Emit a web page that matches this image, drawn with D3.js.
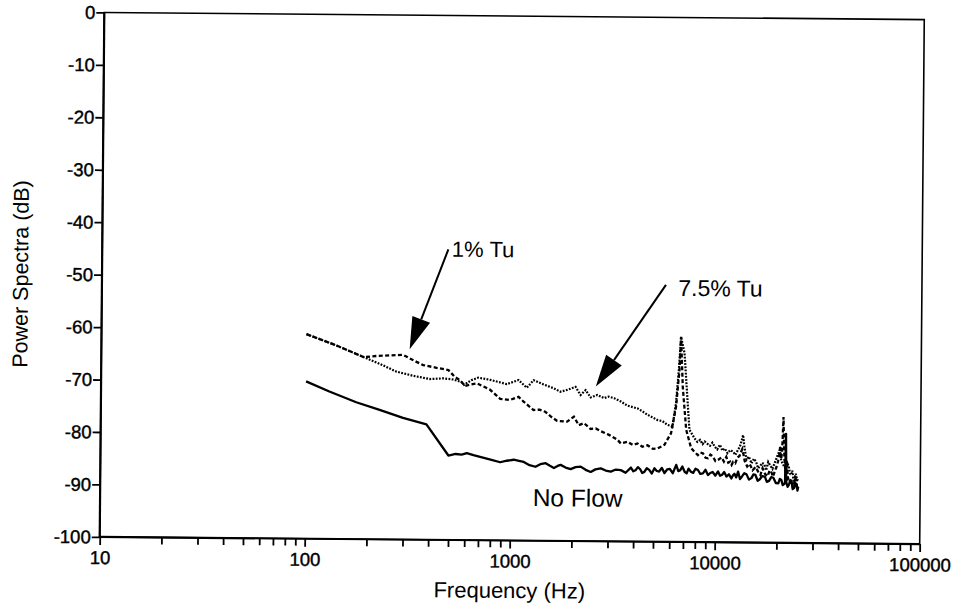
<!DOCTYPE html>
<html>
<head>
<meta charset="utf-8">
<script src="https://cdn.jsdelivr.net/npm/d3@7"></script>
<style>
  html, body { margin: 0; padding: 0; background: #fff; }
  svg { display: block; font-family: "Liberation Sans", Arial, Helvetica, sans-serif; }
</style>
</head>
<body>
<svg id="chart" width="960" height="609"></svg>
<script>
// Power spectra of the probe signal: no flow vs. 1% and 7.5% turbulence intensity
const noFlowHz = [100, 130, 176, 229, 298, 388, 498, 540, 578, 612, 660, 711, 800, 892, 960, 1038, 1100, 1162, 1240, 1326,
  1400, 1486, 1560, 1631, 1700, 1758, 1860, 1968, 2080, 2203, 2330, 2466, 2600, 2761, 2920, 3090, 3270, 3459, 3650, 3873,
  3980, 4080, 4190, 4300, 4400, 4506, 4630, 4760, 4900, 5046, 5180, 5320, 5480, 5649, 5820, 6000, 6200, 6442, 6600, 6750,
  6900, 7084, 7250, 7400, 7600, 7800, 8000, 8227, 8450, 8700, 8950, 9209, 9450, 9700, 10000, 10310, 10550, 10800, 11050, 11330,
  11650, 11980, 12200, 12400, 12650, 12920, 13200, 13500, 13850, 14200, 14600, 15010, 15350, 15700, 16100, 16500, 16950, 17450, 17850, 18300,
  18750, 19200, 19750, 20310, 20650, 21000, 21350, 21700, 21900, 22050, 22200, 22550, 22900, 23250, 23580, 23950, 24300, 24650, 25000, 25200,
  25410];
const noFlowDb = [-70.0, -71.9, -73.9, -75.3, -76.8, -78.0, -83.9, -83.6, -83.7, -83.4, -83.8, -84.1, -84.6, -85.1, -84.8, -84.6, -84.8, -85.0, -85.6, -85.9,
  -85.4, -85.2, -85.7, -86.1, -85.7, -85.5, -86.0, -86.3, -85.9, -85.8, -86.4, -86.8, -86.3, -86.1, -86.5, -86.7, -86.3, -86.4, -86.9, -85.9,
  -86.6, -86.4, -85.8, -86.2, -86.9, -86.7, -86.0, -86.3, -87.0, -86.0, -86.5, -86.6, -85.9, -86.9, -86.2, -86.1, -86.9, -85.3, -86.5, -86.3,
  -85.6, -86.6, -86.9, -86.0, -86.6, -86.8, -86.0, -86.25, -87.0, -86.9, -86.2, -87.2, -86.8, -86.6, -87.3, -86.5, -87.3, -87.1, -86.6, -87.45,
  -87.0, -87.8, -87.2, -86.9, -87.6, -86.5, -87.9, -87.4, -86.8, -87.0, -88.0, -87.7, -87.0, -87.1, -88.2, -87.9, -87.3, -87.4, -88.4, -88.2,
  -87.5, -87.6, -88.6, -88.65, -87.8, -88.0, -89.0, -88.8, -88.5, -79.2, -88.4, -89.3, -88.9, -88.0, -88.3, -89.7, -89.5, -88.6, -88.9, -90.0,
  -89.3];

const tu1Hz = [100, 140, 191, 219, 260, 297, 318, 345, 372, 432, 494, 531, 562, 596, 640, 680, 735, 791, 840, 886,
  991, 1089, 1153, 1220, 1291, 1380, 1472, 1580, 1682, 1883, 2031, 2148, 2277, 2453, 2600, 2747, 3020, 3319, 3446, 3716,
  3950, 4160, 4400, 4656, 4950, 5219, 5631, 6057, 6394, 6620, 6720, 6880, 7180, 7606, 7900, 8204, 8450, 8700, 8950, 9200,
  9450, 9700, 10000, 10300, 10700, 11000, 11300, 11550, 11800, 12000, 12200, 12500, 12800, 13100, 13300, 13500, 13700, 13900, 14300, 14700,
  15200, 15700, 16200, 16600, 17000, 17500, 18000, 18400, 18800, 19100, 19500, 19850, 20200, 20450, 20700, 20900, 21100, 21250, 21400, 21550,
  21700, 22000, 22300, 22650, 23000, 23250, 23500, 23850, 24200, 24500, 24800, 25100, 25400];
const tu1Db = [-61.0, -63.1, -65.3, -65.05, -64.9, -64.8, -65.4, -66.1, -66.7, -67.2, -67.6, -68.9, -69.5, -70.6, -70.3, -70.1, -70.7, -71.3, -72.2, -73.0,
  -73.2, -72.6, -73.5, -74.3, -75.1, -75.0, -75.4, -76.4, -77.1, -77.25, -76.3, -77.9, -77.5, -78.6, -78.5, -79.0, -79.7, -80.6, -81.3, -81.0,
  -81.6, -81.3, -81.9, -81.6, -82.3, -82.2, -81.5, -79.3, -74.2, -67.2, -60.9, -70.4, -78.6, -82.1, -82.8, -83.4, -82.9, -83.1, -83.9, -84.0,
  -83.3, -83.6, -84.5, -84.3, -83.8, -84.6, -83.7, -84.8, -84.6, -85.2, -84.65, -84.9, -83.8, -83.5, -82.8, -82.2, -83.2, -84.5, -85.5, -85.0,
  -86.2, -85.6, -86.5, -87.1, -85.8, -86.9, -87.3, -86.2, -86.6, -87.4, -86.4, -85.6, -84.5, -83.4, -81.5, -84.0, -83.0, -79.8, -76.0, -80.5,
  -84.0, -86.5, -84.5, -87.8, -87.6, -88.8, -88.0, -89.4, -88.9, -87.6, -87.9, -89.6, -89.2];

const tu75Hz = [100, 140, 191, 230, 276, 332, 401, 466, 523, 574, 590, 640, 692, 789, 870, 953, 1087, 1194, 1288, 1442,
  1615, 1741, 1879, 2064, 2185, 2312, 2448, 2641, 2847, 3000, 3187, 3433, 3700, 4142, 4400, 4642, 5197, 5500, 5817, 6152,
  6385, 6574, 6720, 6998, 7284, 7446, 7888, 8150, 8400, 8650, 8852, 9100, 9400, 9650, 9927, 10200, 10500, 10800, 11100, 11450,
  11800, 12190, 12500, 12850, 13150, 13400, 13620, 13800, 14170, 14550, 15000, 15400, 15800, 16150, 16490, 16900, 17300, 17700, 18100, 18550,
  19000, 19400, 19800, 20200, 20600, 20900, 21200, 21700, 22200, 22500, 22800, 23150, 23500, 23750, 24000, 24350, 24700, 25050, 25400];
const tu75Db = [-61.0, -63.1, -65.3, -66.6, -68.0, -68.75, -69.35, -69.2, -69.4, -69.9, -70.4, -69.5, -69.0, -69.4, -69.8, -70.2, -69.4, -70.85, -69.4, -70.2,
  -70.9, -71.55, -71.2, -70.6, -72.15, -71.2, -72.6, -72.1, -72.7, -72.4, -72.7, -73.3, -74.1, -74.6, -75.2, -75.8, -76.8, -77.0, -77.7, -78.0,
  -73.6, -67.2, -60.9, -64.0, -73.5, -78.6, -80.2, -80.9, -80.5, -81.3, -80.8, -81.2, -81.6, -81.0, -81.8, -82.3, -81.4, -82.5, -82.1, -83.0,
  -82.4, -82.7, -83.3, -82.4, -81.7, -80.6, -79.5, -81.5, -84.2, -83.6, -84.9, -84.0, -84.6, -85.8, -85.5, -84.8, -85.0, -86.2, -84.6, -85.3,
  -85.9, -84.9, -84.0, -83.1, -82.3, -84.1, -84.8, -85.5, -86.1, -84.9, -85.4, -86.8, -87.0, -86.2, -87.6, -88.3, -86.8, -87.9, -88.1];

// Axis ticks
const yTicks = [0, -10, -20, -30, -40, -50, -60, -70, -80, -90, -100];
const xMajorTicks = [10, 100, 1000, 10000, 100000];
const xMinorTicks = [];
for (const dec of [10, 100, 1000, 10000]) for (let m = 2; m <= 9; m++) xMinorTicks.push(dec * m);

// Annotations: label, text anchor point, arrow tail and arrow tip (Hz, dB)
const notes = [
  { text: "1% Tu", at: [508, -46.0], tail: [488, -44.6], tip: [319, -63.7], size: 22 },
  { text: "7.5% Tu", at: [6480, -53.1], tail: [5640, -51.0], tip: [2590, -70.5], size: 23 }
];
const noFlowLabel = { text: "No Flow", at: [1290, -93.4], size: 24.5 };

const svg = d3.select("#chart");
svg.append("rect").attr("width", 960).attr("height", 609).attr("fill", "#fff");

// The whole sheet sits with a slight clockwise tilt
const g = svg.append("g").attr("transform", "rotate(0.5, 512, 278)");

const plotLeft = 102, plotRight = 922, plotTop = 16, plotBottom = 540.5;
const x = d3.scaleLog().domain([10, 100000]).range([plotLeft, plotRight]);
const y = d3.scaleLinear().domain([-100, 0]).range([plotBottom, plotTop]);

// Frame
g.append("rect")
  .attr("x", plotLeft).attr("y", plotTop)
  .attr("width", plotRight - plotLeft).attr("height", plotBottom - plotTop)
  .attr("fill", "none").attr("stroke", "#000").attr("stroke-width", 1.6);
g.append("line").attr("x1", plotLeft).attr("x2", plotLeft).attr("y1", plotTop).attr("y2", plotBottom)
  .attr("stroke", "#000").attr("stroke-width", 2.2);
g.append("line").attr("x1", plotLeft).attr("x2", plotRight).attr("y1", plotBottom).attr("y2", plotBottom)
  .attr("stroke", "#000").attr("stroke-width", 2.2);

// Y axis
const yAxis = g.append("g").attr("transform", `translate(${plotLeft},0)`)
  .call(d3.axisLeft(y).tickValues(yTicks).tickSize(8).tickPadding(1).tickSizeOuter(0).tickFormat(d => String(d)));
yAxis.select(".domain").remove();
yAxis.selectAll("line").attr("stroke-width", 1.8);
yAxis.selectAll("text").attr("font-size", 18.5).attr("fill", "#000")
  .attr("stroke", "#000").attr("stroke-width", 0.4)
  .attr("font-family", "'Liberation Sans', Arial, sans-serif");

// X axis: minor and decade ticks
const xMinor = g.append("g").attr("transform", `translate(0,${plotBottom})`)
  .call(d3.axisBottom(x).tickValues(xMinorTicks).tickSize(7).tickFormat(() => "").tickSizeOuter(0));
xMinor.select(".domain").remove();
xMinor.selectAll("line").attr("stroke-width", 1.8);
const xMajor = g.append("g").attr("transform", `translate(0,${plotBottom})`)
  .call(d3.axisBottom(x).tickValues(xMajorTicks).tickSize(8).tickPadding(6).tickSizeOuter(0).tickFormat(d => String(d)));
xMajor.select(".domain").remove();
xMajor.selectAll("line").attr("stroke-width", 1.8);
xMajor.selectAll("text").attr("font-size", 18.5).attr("fill", "#000")
  .attr("stroke", "#000").attr("stroke-width", 0.4)
  .attr("font-family", "'Liberation Sans', Arial, sans-serif");

// Axis titles
g.append("text").attr("x", (plotLeft + plotRight) / 2).attr("y", 598)
  .attr("text-anchor", "middle").attr("font-size", 22).text("Frequency (Hz)");
g.append("text").attr("transform", `translate(28,${(plotTop + plotBottom) / 2}) rotate(-90)`)
  .attr("text-anchor", "middle").attr("font-size", 21.5).text("Power Spectra (dB)");

// Spectra
const line = d3.line().x(d => x(d[0])).y(d => y(d[1]));
const zip = (a, b) => a.map((v, i) => [v, b[i]]);

g.append("path").datum(zip(tu75Hz, tu75Db)).attr("d", line)
  .attr("fill", "none").attr("stroke", "#000").attr("stroke-width", 2.2)
  .attr("stroke-dasharray", "1.8,1.4");
g.append("path").datum(zip(tu1Hz, tu1Db)).attr("d", line)
  .attr("fill", "none").attr("stroke", "#000").attr("stroke-width", 2.3)
  .attr("stroke-dasharray", "4,2.4");
g.append("path").datum(zip(noFlowHz, noFlowDb)).attr("d", line)
  .attr("fill", "none").attr("stroke", "#000").attr("stroke-width", 2.3)
  .attr("stroke-linejoin", "round");

// Annotations with arrows
const headLen = 32, headHalf = 9.5;
notes.forEach(n => {
  const tx = x(n.tip[0]), ty = y(n.tip[1]);
  const sx = x(n.tail[0]), sy = y(n.tail[1]);
  const dx = sx - tx, dy = sy - ty, len = Math.hypot(dx, dy);
  const ux = dx / len, uy = dy / len;
  const bx = tx + ux * headLen, by = ty + uy * headLen;
  g.append("line").attr("x1", sx).attr("y1", sy).attr("x2", bx).attr("y2", by)
    .attr("stroke", "#000").attr("stroke-width", 2);
  g.append("path")
    .attr("d", `M${tx},${ty}L${bx - uy * headHalf},${by + ux * headHalf}L${bx + uy * headHalf},${by - ux * headHalf}Z`)
    .attr("fill", "#000");
  g.append("text").attr("x", x(n.at[0])).attr("y", y(n.at[1]))
    .attr("font-size", n.size).text(n.text);
});
g.append("text").attr("x", x(noFlowLabel.at[0])).attr("y", y(noFlowLabel.at[1]))
  .attr("font-size", noFlowLabel.size).text(noFlowLabel.text);
</script>
</body>
</html>
